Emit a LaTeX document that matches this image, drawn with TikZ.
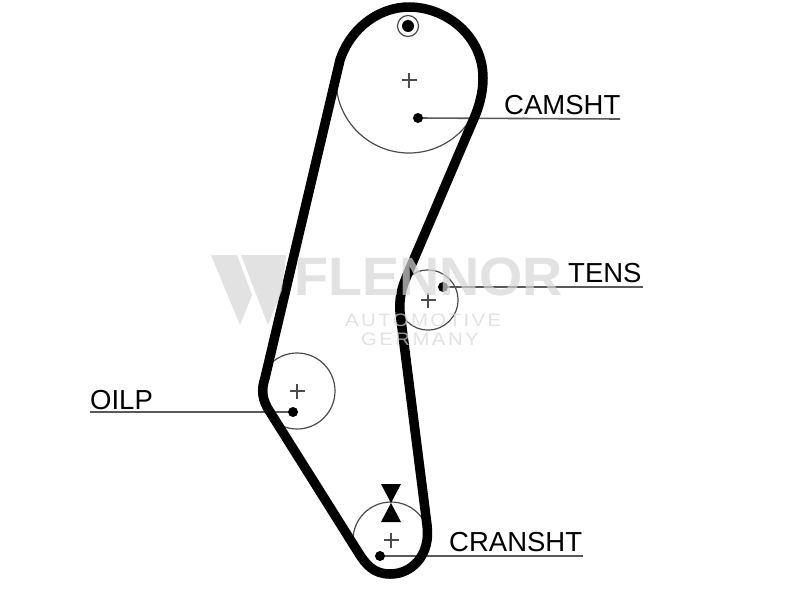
\documentclass[tikz,border=0pt]{standalone}
\usepackage{fontspec}
\setmainfont{Liberation Sans}
\begin{document}
\begin{tikzpicture}[x=1pt,y=-1pt,
  pulley/.style={draw=black!70,line width=1.2pt,circle,minimum size=#1,inner sep=0pt},
  belt/.style={line width=9.5pt,line join=round,line cap=round,black},
  lead/.style={draw=black!65,line width=1.6pt},
  dotmark/.style={circle,fill=black,inner sep=0pt,minimum size=10pt},
  crossmark/.style={draw=black!70,line width=1.3pt},
  lbl/.style={font=\fontsize{27.5}{27.5}\selectfont,inner sep=0pt,anchor=base west,text=black},
  wm/.style={fill=black!16,opacity=.7,draw=none},
  wmtext/.style={text=black!16,opacity=.7,inner sep=0pt}]
\useasboundingbox (0,0) rectangle (800,600);
\fill[white] (0,0) rectangle (800,600);
% pulleys
\node[pulley=146pt] (cam) at (409,80) {};
\node[pulley=60pt] (ten) at (428,300) {};
\node[pulley=76pt] (oil) at (297,391) {};
\node[pulley=76pt] (cra) at (391,540) {};
% centre crosses
\foreach \c in {cam,ten,oil,cra}{
  \draw[crossmark] ([xshift=-7.5pt]\c.center) -- ([xshift=7.5pt]\c.center);
  \draw[crossmark] ([yshift=-7.5pt]\c.center) -- ([yshift=7.5pt]\c.center);
}
% labels and leaders
\coordinate (d1) at (418,118);
\coordinate (d2) at (443,287);
\coordinate (d3) at (293,412);
\coordinate (d4) at (380,556);
\node[lbl] (l1) at (504,114) {CAMSHT};
\node[lbl] (l2) at (568,282) {TENS};
\node[lbl] (l3) at (90,409) {OILP};
\node[lbl] (l4) at (449,551) {CRANSHT};
\coordinate (e1) at (620,119);
\coordinate (e2) at (643,287);
\coordinate (s3) at (90,412);
\coordinate (e4) at (583,556);
\draw[lead] (d1) -- (e1);
\draw[lead] (d2) -- (e2);
\draw[lead] (s3) -- (d3);
\draw[lead] (d4) -- (e4);
% belt
\draw[belt] (340,60)
  .. controls (351,27) and (380,7) .. (409,7)
  .. controls (445,7) and (483,35) .. (483,78)
  .. controls (483,95) and (478,110) .. (472,123)
  -- (411,266)
  .. controls (403,285) and (399,293) .. (400,312)
  -- (427,525)
  .. controls (431,555) and (412,574) .. (390,574)
  .. controls (374,574) and (366,565) .. (358,552)
  -- (270,412)
  .. controls (262,400) and (261,390) .. (265,378)
  -- (340,60);
% leader dots
\node[dotmark] (n1) at (d1) {};
\node[dotmark] (n2) at (d2) {};
\node[dotmark] (n3) at (d3) {};
\node[dotmark] (n4) at (d4) {};
% timing marks
\node[circle,draw=black!70,line width=1.2pt,minimum size=21pt,inner sep=0pt] (mark) at (408,26) {};
\node[dotmark,minimum size=12pt] (markdot) at (408,26) {};
\fill[black] (381,484) -- (401,484) -- (391,503) -- (401,522) -- (381,522) -- (391,503) -- cycle;
% watermark
\fill[wm] (211,255) -- (237,255) -- (252,295) -- (240,325) -- cycle;
\fill[wm] (241,255) -- (268,255) -- (282,290) -- (268,325) -- cycle;
\fill[wm] (268,255) -- (286,255) -- (282,290) -- cycle;
\node[wmtext,anchor=base west,xscale=1.03,font=\bfseries] (wm1) at (294,295) {\fontsize{54}{54}\selectfont FLENNOR};
\node[wmtext,anchor=base west,xscale=1.13] (wm2) at (345,326) {\fontsize{18}{18}\selectfont\addfontfeature{LetterSpace=12}AUTOMOTIVE};
\node[wmtext,anchor=base west,xscale=1.13] (wm3) at (361,345) {\fontsize{18}{18}\selectfont\addfontfeature{LetterSpace=12}GERMANY};
\end{tikzpicture}
\end{document}
